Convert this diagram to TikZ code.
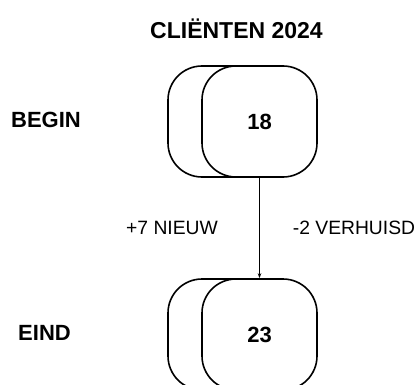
\documentclass[tikz,border=0pt]{standalone}
\usepackage{fontspec}
\setmainfont{Liberation Sans}
\usetikzlibrary{arrows.meta}
\begin{document}
\begin{tikzpicture}[x=1pt,y=-1pt,
  blok/.style={draw,line width=1.6pt,rounded corners=34pt,minimum width=115pt,minimum height=111pt,fill=white,font=\fontsize{22}{26}\selectfont\bfseries},
  kop/.style={font=\fontsize{22}{26}\selectfont\bfseries},
  stroom/.style={font=\fontsize{19.3}{23}\selectfont}]
\clip (0,0) rectangle (420,385);
\node[kop,font=\fontsize{23}{27}\selectfont\bfseries] (titel) at (236.5,29) {CLIËNTEN 2024};
\node[kop] (lbegin) at (46,120) {BEGIN};
\node[kop] (leind) at (44.5,333) {EIND};
% achterste en voorste blokken
\node[blok] (begin2) at (225.5,121.5) {};
\node[blok] (begin) at (259.5,121.5) {18};
\node[blok] (eind2) at (225.5,334.5) {};
\node[blok] (eind) at (259.5,334.5) {23};
\draw[line width=0.8pt,-{Stealth[length=5pt,width=3.5pt]}] (begin.south) -- (eind.north);
\node[stroom] (nieuw) at (172,228) {+7 NIEUW};
\node[stroom] (weg) at (354,228) {-2 VERHUISD};
\end{tikzpicture}
\end{document}
